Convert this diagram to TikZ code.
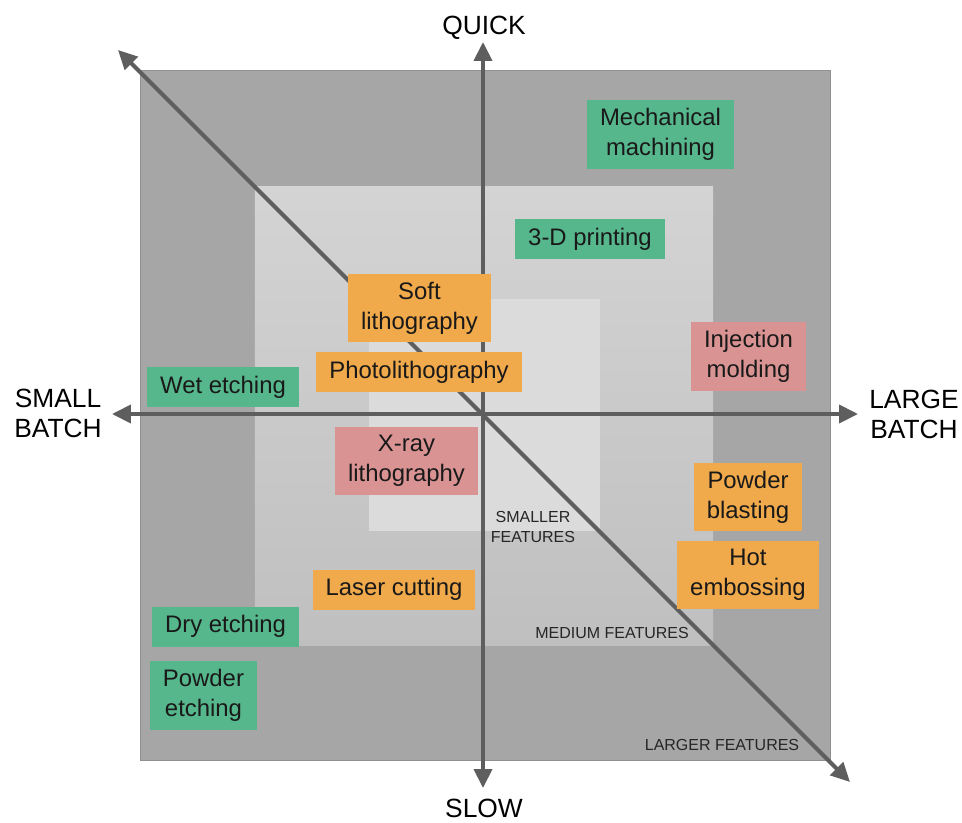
\documentclass[tikz,border=0pt]{standalone}
\usepackage{fontspec}
\setmainfont{Liberation Sans}
\usepackage{tikz}
\usetikzlibrary{positioning,arrows.meta}
\definecolor{tgreen}{HTML}{56B68C}
\definecolor{torange}{HTML}{F0A94B}
\definecolor{tred}{HTML}{DA9393}
\definecolor{axisgray}{HTML}{5E5E5E}
\tikzset{%
  axis/.style   = { <->, >={Triangle[length=0.38cm, width=0.36cm]}, line width = 0.08cm,
                    draw = axisgray },
  zone/.style   = { fill = #1 },
  tbox/.style   = { fill = #1, align = center, text = black!90, inner xsep = 0.26cm, inner ysep = 0.16cm,
                    minimum height = 0.8cm, font = \fontsize{13.6}{17}\selectfont },
  alabel/.style = { align = center, font = \fontsize{15}{17}\selectfont },
  flabel/.style = { align = center, text = black!85, font = \fontsize{9.1}{11.4}\selectfont }
}

\begin{document}
\begin{tikzpicture}[x=0.02cm, y=0.02cm]
\useasboundingbox (-483,-408) rectangle (479,414);

% feature zones
\filldraw[zone=black!35, draw=black!43] (-343,344) rectangle (347,-346);
\shade[top color=black!17, bottom color=black!25] (-228,228) rectangle (230,-231);
\fill[zone=black!14] (-114,115) rectangle (117,-117);

% axes
\coordinate (O)  at (0,0);
\coordinate (QK) at (0,372);
\coordinate (SW) at (0,-374);
\coordinate (SB) at (-371,0);
\coordinate (LB) at (375,0);
\coordinate (UL) at (-365,364);
\coordinate (LR) at (367,-368);
\draw[axis] (SW) -- (QK);
\draw[axis] (SB) -- (LB);
\draw[axis] (UL) -- (LR);

\node(quick) [alabel] at (1,386)   {QUICK};
\node(slow)  [alabel] at (1,-394)  {SLOW};
\node(small) [alabel] at (-425,1)  {SMALL\\BATCH};
\node(large) [alabel] at (431,0)   {LARGE\\BATCH};

\node(smf) [flabel] at (50,-113)   {SMALLER\\FEATURES};
\node(mdf) [flabel] at (129,-219)  {MEDIUM FEATURES};
\node(lgf) [flabel] at (239,-331)  {LARGER FEATURES};

% processes
\node(MM) [tbox=tgreen]  at (177.5,279.5) {Mechanical\\machining};
\node(DP) [tbox=tgreen]  at (107,175)     {3-D printing};
\node(SL) [tbox=torange] at (-63.5,106)   {Soft\\lithography};
\node(PL) [tbox=torange] at (-64,42)      {Photolithography};
\node(WE) [tbox=tgreen]  at (-260,27)     {Wet etching};
\node(IM) [tbox=tred]    at (265.5,57.5)  {Injection\\molding};
\node(XL) [tbox=tred]    at (-76.5,-47)   {X-ray\\lithography};
\node(PB) [tbox=torange] at (265,-83)     {Powder\\blasting};
\node(HE) [tbox=torange] at (265,-161)    {Hot\\embossing};
\node(LC) [tbox=torange] at (-89,-175.5)  {Laser cutting};
\node(DE) [tbox=tgreen]  at (-257.5,-212.5) {Dry etching};
\node(PE) [tbox=tgreen]  at (-279.5,-281.5) {Powder\\etching};
\end{tikzpicture}
\end{document}
